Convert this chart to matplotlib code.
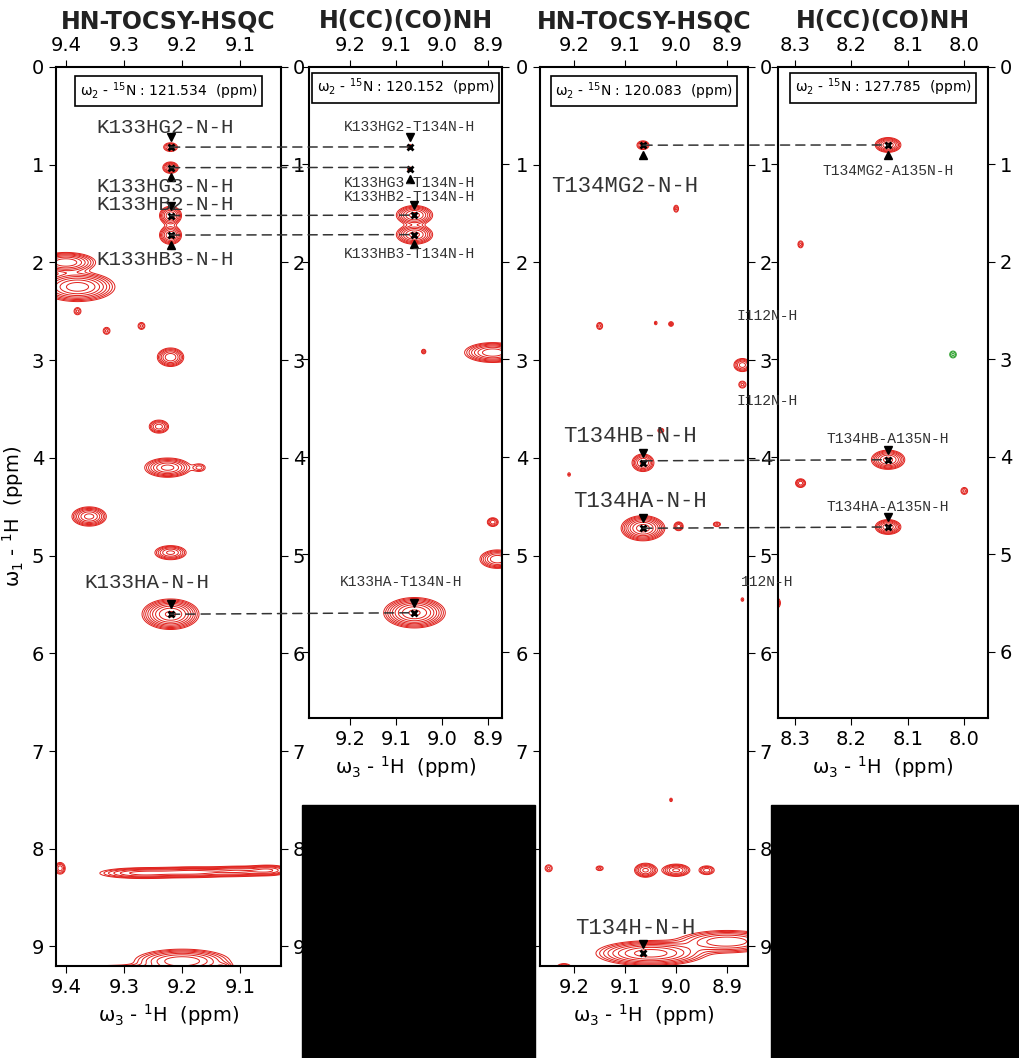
import numpy as np
import matplotlib
matplotlib.use("Agg")
import matplotlib.pyplot as plt
from matplotlib.patches import ConnectionPatch, Rectangle

W, H = 1020, 1058
fig = plt.figure(figsize=(W/100, H/100), dpi=100)

def ax_px(l, t, r, b):
    return fig.add_axes([l/W, 1-b/H, (r-l)/W, (b-t)/H])

# panel ranges
xlims = [(9.417, 9.03), (9.289, 8.87), (9.267, 8.859), (8.33, 7.958)]
ylims = [(9.2, 0), (6.68, 0), (9.2, 0), (6.68, 0)]
boxes = [(56, 67, 281, 966), (309, 67, 502, 718), (540, 67, 748, 966), (778, 67, 988, 718)]
n15 = ["121.534", "120.152", "120.083", "127.785"]
titles = ["HN-TOCSY-HSQC", "H(CC)(CO)NH", "HN-TOCSY-HSQC", "H(CC)(CO)NH"]
xticks = [[9.4, 9.3, 9.2, 9.1], [9.2, 9.1, 9.0, 8.9], [9.2, 9.1, 9.0, 8.9], [8.3, 8.2, 8.1, 8.0]]

# peaks: (x ppm, y ppm, amplitude, x width, y width)
peaks1 = [(9.22, 0.82, 3, .008, .03), (9.22, 1.03, 4, .008, .035), (9.22, 1.52, 6, .010, .05),
          (9.22, 1.72, 6, .010, .05), (9.40, 2.00, 8, .025, .05), (9.38, 2.25, 10, .03, .07),
          (9.22, 2.97, 6, .012, .05), (9.24, 3.68, 4, .01, .04), (9.225, 4.10, 7, .02, .05),
          (9.17, 4.10, 2, .008, .03), (9.36, 4.60, 7, .015, .05), (9.22, 4.97, 5, .015, .04),
          (9.22, 5.60, 12, .022, .07), (9.27, 8.25, 5, .04, .03), (9.18, 8.24, 5, .04, .03),
          (9.10, 8.23, 4, .03, .03), (9.41, 8.20, 3, .006, .04),
          (9.05, 8.22, 4, .02, .03), (9.30, 9.26, 6, .06, .035), (9.20, 9.15, 8, .04, .06),
          (9.13, 9.22, 3, .01, .03), (9.38, 2.50, 2, .005, .03), (9.33, 2.70, 2, .005, .03),
          (9.27, 2.65, 2, .005, .03), (9.025, 4.05, 1.5, .003, .02)]
peaks2 = [(9.07, 0.82, 2, .004, .02), (9.07, 1.05, 2, .004, .02), (9.06, 1.52, 7, .02, .05),
          (9.06, 1.72, 7, .02, .05), (8.89, 2.93, 8, .03, .05), (9.04, 2.92, 2, .004, .02),
          (8.89, 4.67, 3, .008, .03), (8.88, 5.05, 6, .02, .05), (9.06, 5.60, 12, .03, .07)]
peaks3 = [(9.065, 0.80, 3, .008, .03), (9.00, 1.45, 2, .004, .03), (9.15, 2.65, 2, .005, .03),
          (9.04, 2.62, 1.5, .003, .02), (9.01, 2.63, 2, .004, .02), (8.87, 3.05, 4, .01, .04),
          (8.87, 3.25, 2, .006, .03), (9.065, 4.05, 5, .012, .05), (9.03, 3.72, 2, .005, .02),
          (9.065, 4.72, 10, .02, .06), (8.995, 4.70, 3, .006, .03), (8.92, 4.68, 2, .006, .02),
          (9.06, 8.22, 5, .012, .04), (9.00, 8.22, 5, .015, .035), (8.94, 8.22, 3, .01, .03),
          (9.25, 8.20, 2, .006, .03), (9.15, 8.20, 2, .006, .02), (9.05, 9.07, 10, .05, .06),
          (8.90, 8.95, 6, .05, .06), (9.22, 9.22, 3, .01, .03), (9.01, 7.50, 1.5, .003, .02),
          (9.21, 4.17, 1.5, .003, .02), (8.87, 5.45, 1.5, .003, .02)]
peaks4 = [(8.135, 0.80, 6, .012, .04), (8.29, 1.82, 2, .004, .03), (8.34, 2.78, 2, .004, .03),
          (8.34, 3.65, 2, .004, .03), (8.135, 4.03, 7, .015, .05), (8.29, 4.27, 3, .006, .03),
          (8.00, 4.35, 2, .005, .03), (8.135, 4.72, 6, .012, .04), (8.34, 5.50, 5, .008, .04)]
green4 = [(8.02, 2.95, 2, .005, .03)]
peaks = [peaks1, peaks2, peaks3, peaks4]

labels = [
    [("K133HG2-N-H", 9.22, 0.82, 9.23, 0.62, 15), ("K133HG3-N-H", 9.22, 1.03, 9.23, 1.22, 15),
     ("K133HB2-N-H", 9.22, 1.52, 9.23, 1.41, 15), ("K133HB3-N-H", 9.22, 1.72, 9.23, 1.97, 15),
     ("K133HA-N-H", 9.22, 5.60, 9.26, 5.28, 15)],
    [("K133HG2-T134N-H", 9.07, 0.82, 9.07, 0.62, 10.5), ("K133HG3-T134N-H", 9.07, 1.05, 9.07, 1.19, 10.5),
     ("K133HB2-T134N-H", 9.06, 1.52, 9.07, 1.33, 10.5), ("K133HB3-T134N-H", 9.06, 1.72, 9.07, 1.92, 10.5),
     ("K133HA-T134N-H", 9.06, 5.60, 9.09, 5.28, 10.5)],
    [("T134MG2-N-H", 9.065, 0.80, 9.10, 1.22, 16), ("T134HB-N-H", 9.065, 4.05, 9.09, 3.78, 16),
     ("T134HA-N-H", 9.065, 4.72, 9.07, 4.45, 16), ("T134H-N-H", 9.065, 9.07, 9.08, 8.82, 16)],
    [("T134MG2-A135N-H", 8.135, 0.80, 8.135, 1.07, 10.5), ("T134HB-A135N-H", 8.135, 4.03, 8.135, 3.82, 10.5),
     ("T134HA-A135N-H", 8.135, 4.72, 8.135, 4.52, 10.5), ("I112N-H", 8.35, 2.78, 8.35, 2.55, 10.5),
     ("I112N-H", 8.35, 3.65, 8.35, 3.43, 10.5), ("112N-H", 8.35, 5.50, 8.35, 5.28, 10.5)],
]
links = [(0, 1, 9.22, 9.07, 0.82), (0, 1, 9.22, 9.07, 1.03), (0, 1, 9.22, 9.06, 1.52),
         (0, 1, 9.22, 9.06, 1.72), (0, 1, 9.22, 9.06, 5.60),
         (2, 3, 9.065, 8.135, 0.80), (2, 3, 9.065, 8.135, 4.03), (2, 3, 9.065, 8.135, 4.72)]

def field(pl, X, Y):
    Z = np.zeros_like(X)
    for (x0, y0, a, sx, sy) in pl:
        Z += a * np.exp(-((X-x0)/sx)**2/2 - ((Y-y0)/sy)**2/2)
    return Z

axes = []
for i in range(4):
    l, t, r, b = boxes[i]
    ax = ax_px(l, t, r, b)
    axes.append(ax)
    ax.set_xlim(*xlims[i]); ax.set_ylim(*ylims[i])
    xs = np.linspace(xlims[i][1], xlims[i][0], 500)
    ys = np.linspace(0, ylims[i][0], 900)
    X, Y = np.meshgrid(xs, ys)
    Z = field(peaks[i], X, Y)
    lv = 1.0 * 1.35**np.arange(12)
    ax.contour(X, Y, Z, levels=lv, colors="#e0201b", linewidths=0.7)
    if i == 3:
        ax.contour(X, Y, field(green4, X, Y), levels=lv[:3], colors="#2ca02c", linewidths=0.7)
    ax.set_xticks(xticks[i])
    ax.set_xticklabels([f"{v:.1f}" for v in xticks[i]], fontsize=14)
    ax.tick_params(axis="x", top=True, labeltop=True, direction="out", length=5)
    yt = list(range(0, int(ylims[i][0]) + 1))
    ax.set_yticks(yt)
    ax.set_yticklabels([str(v) for v in yt], fontsize=14)
    ax.tick_params(axis="y", left=True, right=True, direction="out", length=5,
                   labelleft=(i in (0, 2)), labelright=(i in (0, 2, 3)))
    for s in ax.spines.values():
        s.set_linewidth(1.5)
    ax.set_xlabel("ω$_3$ - $^1$H  (ppm)", fontsize=14)
    ax.text(0.5, 0.985, f"ω$_2$ - $^{{15}}$N : {n15[i]}  (ppm)", transform=ax.transAxes,
            ha="center", va="top", fontsize=10,
            bbox=dict(boxstyle="square,pad=0.3", fc="white", ec="black", lw=1.2))
    for (txt, px, py, tx, ty, fs) in labels[i]:
        ax.text(tx, ty, txt, family="Liberation Mono", fontsize=fs, color="#333333",
                ha="center", va="center")
        ax.plot([px], [py], marker="x", color="black", ms=5, mew=2)
        up = ty < py
        ax.plot([px], [py + (-0.1 if up else 0.1)], marker="v" if up else "^",
                color="black", ms=6)
    ax.set_title(titles[i], fontsize=17, fontweight="bold", pad=28, color="#222222")
axes[0].set_ylabel("ω$_1$ - $^1$H  (ppm)", fontsize=14)

for (a, b, xa, xb, y) in links:
    cp = ConnectionPatch((xa, y), (xb, y), "data", "data", axesA=axes[a], axesB=axes[b],
                         color="#333333", ls=(0, (6, 4)), lw=1.1)
    fig.add_artist(cp)

fig.add_artist(Rectangle((302/W, 0), 233/W, 253/H, transform=fig.transFigure, color="black"))
fig.add_artist(Rectangle((771/W, 0), 249/W, 253/H, transform=fig.transFigure, color="black"))

fig.savefig("out.png", dpi=100)
